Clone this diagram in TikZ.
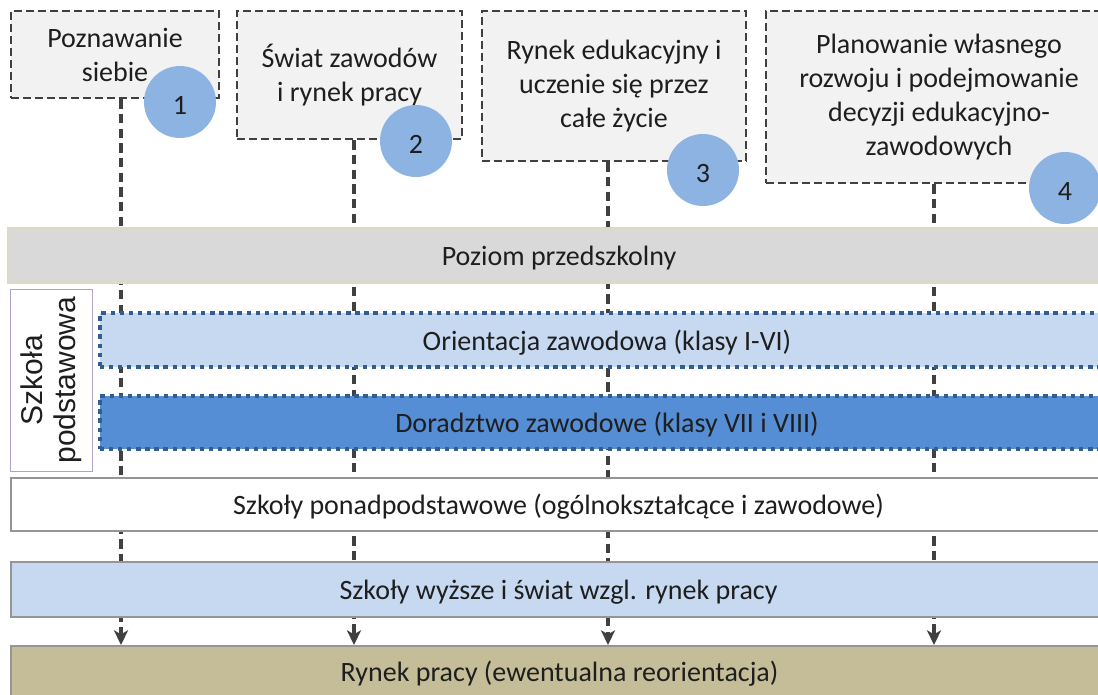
\documentclass[tikz,border=0pt]{standalone}
\usepackage{fontspec}
\setmainfont{Carlito}
\newfontfamily\labelfont{Liberation Sans}
\usetikzlibrary{arrows.meta}

\definecolor{txt}{HTML}{1E1E1E}
\definecolor{dashgray}{HTML}{404040}
\definecolor{boxfill}{HTML}{F2F2F2}
\definecolor{dotblue}{HTML}{8DB3E2}
\definecolor{preschool}{HTML}{D9D9D9}
\definecolor{preschoolline}{HTML}{DDD9C3}
\definecolor{lightblue}{HTML}{C6D9F1}
\definecolor{midblue}{HTML}{558ED5}
\definecolor{dotline}{HTML}{325D91}
\definecolor{barline}{HTML}{959595}
\definecolor{market}{HTML}{C4BD97}
\definecolor{lilac}{HTML}{B3A2C7}

\pgfdeclarelayer{bg}
\pgfsetlayers{bg,main}

\newcommand{\mainsize}{\fontsize{21}{25.5}\selectfont}

\tikzset{
  size/.style 2 args={minimum width=#1*0.75pt, minimum height=#2*0.75pt},
  topbox/.style={draw=dashgray, fill=boxfill, line width=1.8pt,
    dash pattern=on 6pt off 3pt, inner sep=0pt, align=center,
    font=\mainsize, text=txt},
  numdot/.style={circle, fill=dotblue, minimum size=54pt, inner sep=0pt,
    font=\mainsize, text=txt, text height=19pt, text depth=0pt},
  bar/.style={inner sep=0pt, font=\mainsize, text=txt, text depth=0pt},
  plainbar/.style={bar, draw=barline, line width=1.5pt},
  dotbar/.style={bar, draw=dotline, line width=3.2pt, dash pattern=on 3.2pt off 3.6pt},
  link/.style={draw=dashgray, line width=2.4pt, dash pattern=on 7pt off 4pt,
    -{Stealth[length=11pt, width=10.5pt, inset=3pt]}},
}

\begin{document}
\begin{tikzpicture}[x=0.75pt, y=-0.75pt]
  \useasboundingbox (0,0) rectangle (1098,694);
  \clip (0,0) rectangle (1098,694);
  \begin{pgfonlayer}{bg}
    \fill[white] (0,0) rectangle (1098,694);
  \end{pgfonlayer}

  % four topic boxes along the top
  \node[topbox, size={208}{87}] (b1) at (115,54.5) {Poznawanie\\siebie};
  \node[topbox, size={225}{128}] (b2) at (349.5,75) {Świat zawodów\\i rynek pracy};
  \node[topbox, size={264}{150}] (b3) at (614,86) {Rynek edukacyjny i\\uczenie się przez\\całe życie};
  \node[topbox, size={346}{172}] (b4) at (939,97)
    {Planowanie własnego\\rozwoju i podejmowanie\\decyzji edukacyjno-\\zawodowych};

  % numbered markers
  \node[numdot] (n1) at (180,102) {1};
  \node[numdot] (n2) at (416,141) {2};
  \node[numdot] (n3) at (703,170) {3};
  \node[numdot] (n4) at (1065,188) {4};

  % education stages
  \node[bar, fill=preschool, draw=preschoolline, line width=1.6pt,
        size={1102}{55}] (pre) at (559,255.5) {Poziom przedszkolny};
  \node[draw=lilac, line width=0.6pt, fill=white, inner sep=0pt,
        size={82}{182}] (sp) at (51,380) {};
  \node[rotate=90, align=center, inner sep=0pt, text=txt,
        font=\labelfont\fontsize{22.5}{24.75}\selectfont] (splabel) at (sp.center) {Szkoła\\podstawowa};
  \node[dotbar, fill=lightblue, size={1014}{54}] (orient) at (607,340) {Orientacja zawodowa (klasy I-VI)};
  \node[dotbar, fill=midblue, size={1014}{53}] (dorad) at (607,422.5) {Doradztwo zawodowe (klasy VII i VIII)};
  \node[plainbar, fill=white, size={1095}{53}] (ponad) at (558.5,504.5) {Szkoły ponadpodstawowe (ogólnokształcące i zawodowe)};
  \node[plainbar, fill=lightblue, size={1095}{55}] (wyzsze) at (558.5,589.5) {Szkoły wyższe i świat wzgl. rynek pracy};
  \node[plainbar, fill=market, size={1097}{50}] (rynek) at (559.5,671) {Rynek pracy (ewentualna reorientacja)};

  % threads running from each topic down to the labour market
  \coordinate (x1) at (121,0);
  \coordinate (x2) at (354,0);
  \coordinate (x3) at (608,0);
  \coordinate (x4) at (934,0);
  \begin{pgfonlayer}{bg}
    \draw[link] (b1.south -| x1) -- (rynek.north -| x1);
    \draw[link] (b2.south -| x2) -- (rynek.north -| x2);
    \draw[link] (b3.south -| x3) -- (rynek.north -| x3);
    \draw[link] (b4.south -| x4) -- (rynek.north -| x4);
  \end{pgfonlayer}
\end{tikzpicture}
\end{document}
